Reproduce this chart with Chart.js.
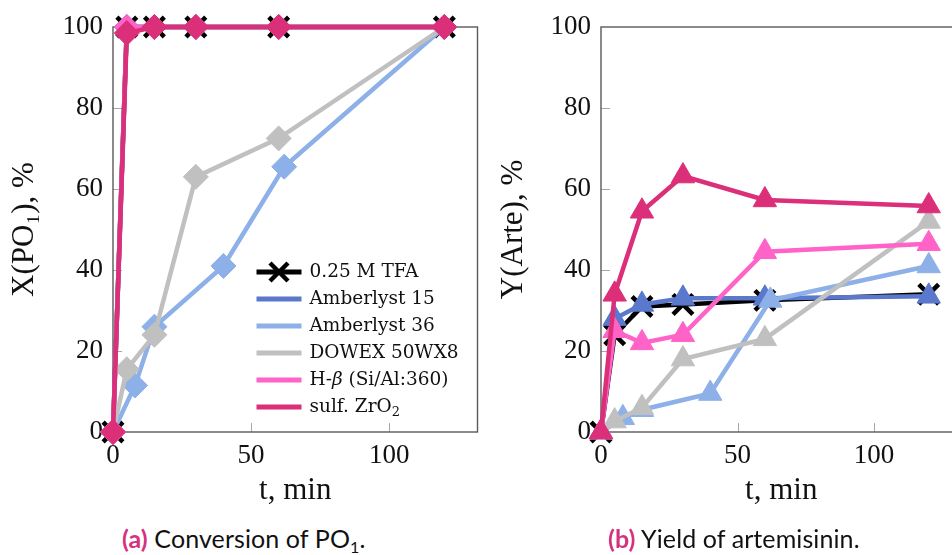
<!DOCTYPE html>
<html>
<head>
<meta charset="utf-8">
<script src="https://cdn.jsdelivr.net/npm/chart.js@4.4.1/dist/chart.umd.min.js"></script>
<style>
  html, body { margin: 0; padding: 0; background: #fff; }
  body { width: 952px; height: 555px; overflow: hidden; position: relative; }
  .panel { position: absolute; top: 0; }
  #convPanel { left: 0; width: 496px; height: 520px; }
  #yieldPanel { left: 480px; width: 500px; height: 520px; }
  .caption {
    position: absolute; top: 523px; font-family: Lato, "Open Sans", sans-serif;
    font-size: 25px; color: #111; white-space: nowrap; letter-spacing: 0.1px;
  }
  .caption b { color: #d6317f; font-weight: 700; }
  .caption sub { font-size: 16px; vertical-align: -5px; line-height: 0; }
</style>
</head>
<body>
<div class="panel" id="convPanel"><canvas id="convChart"></canvas></div>
<div class="panel" id="yieldPanel"><canvas id="yieldChart"></canvas></div>
<div class="caption" style="left:122px"><b>(a)</b> Conversion of PO<sub>1</sub>.</div>
<div class="caption" style="left:608px"><b>(b)</b> Yield of artemisinin.</div>
<script>
// Sampling times (min)
const timesMain = [0, 5, 15, 30, 60, 120];
const timesA36 = [0, 8, 15, 40, 62, 120];

// Conversion of PO1, %
const convTFA   = [0, 100, 100, 100, 100, 100];
const convA15   = [0, 100, 100, 100, 100, 100];
const convA36   = [0, 11.5, 26, 41, 65.5, 100];
const convDowex = [0, 15.5, 24, 63, 72.5, 100];
const convHBeta = [0, 100, 100, 100, 100, 100];
const convZrO2  = [0, 98.5, 100, 100, 100, 100];

// Yield of artemisinin, %
const yieldTFA   = [0, 24, 31, 31.5, 32.5, 34];
const yieldA15   = [0, 28, 31.5, 33, 33, 33.5];
const yieldA36   = [0, 3.5, 5.5, 9.5, 32.5, 41];
const yieldDowex = [0, 2.7, 6, 18, 23, 52];
const yieldHBeta = [0, 25, 22, 24, 44.5, 46.5];
const yieldZrO2  = [0, 34, 54.5, 63.2, 57.3, 55.8];

// Axis ticks
const xTicks = [0, 50, 100];
const yTicks = [0, 20, 40, 60, 80, 100];

// Catalyst names and colours
const catalysts = ['0.25 M TFA', 'Amberlyst 15', 'Amberlyst 36', 'DOWEX 50WX8', 'H-β (Si/Al:360)', 'sulf. ZrO2'];
const colors = ['#000000', '#5a78cc', '#8db0e8', '#c0c0c0', '#ff63c8', '#dc2f7a'];

const pairs = (xs, ys) => xs.map((x, i) => ({ x, y: ys[i] }));

function buildDatasets(series, timeSets, shape, radius) {
  return series.map((ys, i) => {
    const isTFA = i === 0;
    return {
      label: catalysts[i],
      data: pairs(timeSets[i], ys),
      borderColor: colors[i],
      backgroundColor: colors[i],
      borderWidth: 4.5,
      pointStyle: isTFA ? 'crossRot' : shape,
      pointRadius: isTFA ? 14 : radius,
      pointHoverRadius: isTFA ? 14 : radius,
      pointBorderWidth: isTFA ? 4.5 : 1,
      pointBorderColor: colors[i],
      pointBackgroundColor: colors[i],
      tension: 0,
      clip: false,
      order: series.length - i
    };
  });
}

const serif = 'Liberation Serif, DejaVu Serif, serif';

// Frame around the plot area and short inward tick marks
const frameAndTicks = {
  id: 'frameAndTicks',
  beforeDatasetsDraw(chart) {
    const { ctx, chartArea: a, scales: { x, y } } = chart;
    ctx.save();
    ctx.strokeStyle = '#a8a8a8';
    ctx.lineWidth = 1;
    y.ticks.forEach(t => {
      if (t.value <= y.min || t.value >= y.max) return;
      const py = Math.round(y.getPixelForValue(t.value)) + 0.5;
      ctx.beginPath(); ctx.moveTo(a.left, py); ctx.lineTo(a.left + 9, py); ctx.stroke();
    });
    x.ticks.forEach(t => {
      if (t.value <= x.min || t.value >= x.max) return;
      const px = Math.round(x.getPixelForValue(t.value)) + 0.5;
      ctx.beginPath(); ctx.moveTo(px, a.bottom); ctx.lineTo(px, a.bottom - 9); ctx.stroke();
    });
    ctx.strokeStyle = '#5a5a5a';
    ctx.lineWidth = 1.4;
    ctx.strokeRect(a.left, a.top, a.right - a.left, a.bottom - a.top);
    ctx.restore();
  }
};

// Series key inside the conversion plot
const keyLabels = [
  [{ t: '0.25 M TFA' }],
  [{ t: 'Amberlyst 15' }],
  [{ t: 'Amberlyst 36' }],
  [{ t: 'DOWEX 50WX8' }],
  [{ t: 'H-' }, { t: 'β', italic: true }, { t: ' (Si/Al:360)' }],
  [{ t: 'sulf. ZrO' }, { t: '2', sub: true }]
];
const seriesKey = {
  id: 'seriesKey',
  afterDraw(chart) {
    const { ctx, chartArea: a } = chart;
    const x0 = a.right - 221, x1 = a.right - 176, tx = a.right - 168;
    const yStart = a.bottom - 160, step = 27;
    ctx.save();
    keyLabels.forEach((parts, i) => {
      const y = yStart + i * step;
      ctx.strokeStyle = colors[i];
      ctx.lineWidth = 5;
      ctx.lineCap = 'butt';
      ctx.beginPath(); ctx.moveTo(x0, y); ctx.lineTo(x1, y); ctx.stroke();
      if (i === 0) {
        const cx = (x0 + x1) / 2, r = 9;
        ctx.lineWidth = 4.5;
        ctx.beginPath();
        ctx.moveTo(cx - r, y - r); ctx.lineTo(cx + r, y + r);
        ctx.moveTo(cx - r, y + r); ctx.lineTo(cx + r, y - r);
        ctx.stroke();
      }
      ctx.fillStyle = '#111';
      ctx.textBaseline = 'middle';
      let px = tx;
      parts.forEach(p => {
        const size = p.sub ? 13 : 18.5;
        ctx.font = (p.italic ? 'italic ' : '') + size + 'px "DejaVu Serif", serif';
        ctx.fillText(p.t, px, p.sub ? y + 6 : y);
        px += ctx.measureText(p.t).width;
      });
    });
    ctx.restore();
  }
};

function makeOptions(yTitle, yAxisWidth, titlePad, padRight) {
  return {
    responsive: true,
    maintainAspectRatio: false,
    animation: false,
    events: [],
    layout: { padding: { top: 27, right: padRight, bottom: 0, left: 0 } },
    plugins: { legend: { display: false }, tooltip: { enabled: false } },
    scales: {
      x: {
        type: 'linear', min: 0, max: 132,
        afterBuildTicks: s => { s.ticks = xTicks.map(v => ({ value: v })); },
        afterFit: s => { s.height = 88; },
        grid: { display: false, drawTicks: false },
        border: { display: false },
        ticks: { color: '#111', font: { family: serif, size: 27 }, padding: 8, maxRotation: 0 },
        title: { display: true, text: 't, min', color: '#111', font: { family: serif, size: 31 }, padding: { top: 0, bottom: 11 } }
      },
      y: {
        type: 'linear', min: 0, max: 100,
        afterBuildTicks: s => { s.ticks = yTicks.map(v => ({ value: v })); },
        afterFit: s => { s.width = yAxisWidth; },
        grid: { display: false, drawTicks: false },
        border: { display: false },
        ticks: { color: '#111', font: { family: serif, size: 27 }, padding: 10 },
        title: { display: true, text: yTitle, color: '#111', font: { family: serif, size: 31 }, padding: { top: titlePad, bottom: 0 } }
      }
    }
  };
}

const convSeries = [convTFA, convA15, convA36, convDowex, convHBeta, convZrO2];
const yieldSeries = [yieldTFA, yieldA15, yieldA36, yieldDowex, yieldHBeta, yieldZrO2];
const timeSets = [timesMain, timesMain, timesA36, timesMain, timesMain, timesMain];

new Chart(document.getElementById('convChart'), {
  type: 'line',
  data: { datasets: buildDatasets(convSeries, timeSets, 'rectRot', 12.5) },
  options: makeOptions('X(PO₁), %', 113, 6, 4),
  plugins: [frameAndTicks, seriesKey]
});

new Chart(document.getElementById('yieldChart'), {
  type: 'line',
  data: { datasets: buildDatasets(yieldSeries, timeSets, 'triangle', 13.5) },
  options: makeOptions('Y(Arte), %', 121, 15, 15),
  plugins: [frameAndTicks]
});
</script>
</body>
</html>
